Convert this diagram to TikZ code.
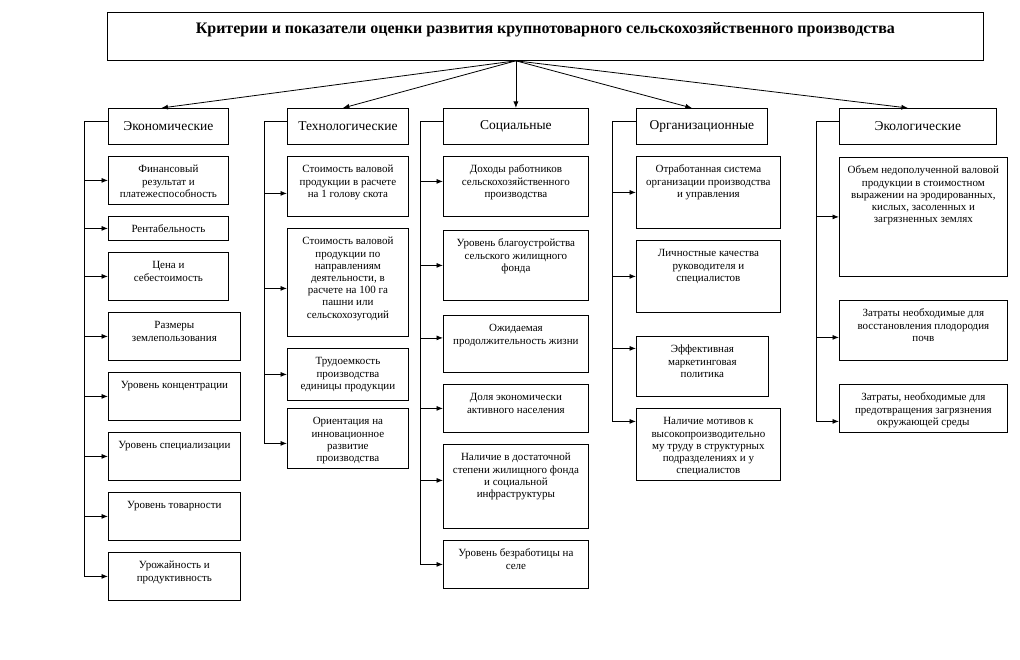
\documentclass[tikz,border=0pt]{standalone}
\usepackage{fontspec}
\setmainfont{Liberation Serif}
\usetikzlibrary{arrows.meta}
\newcommand{\critpar}[3]{\parbox[c][#2][t]{#1}{\centering\rule{0pt}{16.5pt}#3}}

\begin{document}
\begin{tikzpicture}[x=1pt, y=-1pt, line width=0.8pt,
    titl/.style={draw, anchor=north west, inner sep=0pt,
                 font=\bfseries\fontsize{16}{18}\selectfont},
    grp/.style={draw, anchor=north west, inner sep=0pt, minimum height=36,
                font=\fontsize{13.5}{15}\selectfont},
    crit/.style={draw, anchor=north west, inner sep=0pt,
                 font=\fontsize{11}{12.2}\selectfont},
    arr/.style={-{Latex[length=6.5pt, width=5pt]}}]
  \useasboundingbox (0,0) rectangle (1020,660);

  % Заголовок
  \node[titl] (titl) at (107,12) {\parbox[c][48pt][t]{876pt}{\centering\rule{0pt}{21.5pt}%
    Критерии и показатели оценки развития крупнотоварного сельскохозяйственного производства}};

  % Группы критериев
  \node[grp, minimum width=120] (ecoH)  at (108,108) {Экономические};
  \node[grp, minimum width=121] (tecH)  at (287,108) {Технологические};
  \node[grp, minimum width=145] (socH)  at (443,108) {Социальные};
  \node[grp, minimum width=131] (orgH)  at (636,108) {Организационные};
  \node[grp, minimum width=157] (ecolH) at (839,108) {Экологические};

  % Стрелки от заголовка
  \coordinate (hub) at (titl.south -| socH.north);
  \draw[arr] (hub) -- ([xshift=-7pt]ecoH.north);
  \draw[arr] (hub) -- ([xshift=-5pt]tecH.north);
  \draw[arr] (hub) -- (socH.north);
  \draw[arr] (hub) -- ([xshift=-10pt]orgH.north);
  \draw[arr] (hub) -- ([xshift=-10pt]ecolH.north);

  % Экономические
  \node[crit] (e1) at (108,156) {\critpar{120pt}{48pt}{Финансовый\\результат и\\платежеспособность}};
  \node[crit] (e2) at (108,216) {\critpar{120pt}{24pt}{Рентабельность}};
  \node[crit] (e3) at (108,252) {\critpar{120pt}{48pt}{Цена и\\себестоимость}};
  \node[crit] (e4) at (108,312) {\critpar{132pt}{48pt}{Размеры\\землепользования}};
  \node[crit] (e5) at (108,372) {\critpar{132pt}{48pt}{Уровень концентрации}};
  \node[crit] (e6) at (108,432) {\critpar{132pt}{48pt}{Уровень специализации}};
  \node[crit] (e7) at (108,492) {\critpar{132pt}{48pt}{Уровень товарности}};
  \node[crit] (e8) at (108,552) {\critpar{132pt}{48pt}{Урожайность и\\продуктивность}};

  \coordinate (ecoL) at (84,0);
  \draw ([yshift=5pt]ecoH.west) -| (ecoL |- e8.west);
  \draw[arr] (ecoL |- e1.west) -- (e1.west);
  \draw[arr] (ecoL |- e2.west) -- (e2.west);
  \draw[arr] (ecoL |- e3.west) -- (e3.west);
  \draw[arr] (ecoL |- e4.west) -- (e4.west);
  \draw[arr] (ecoL |- e5.west) -- (e5.west);
  \draw[arr] (ecoL |- e6.west) -- (e6.west);
  \draw[arr] (ecoL |- e7.west) -- (e7.west);
  \draw[arr] (ecoL |- e8.west) -- (e8.west);

  % Технологические
  \node[crit] (t1) at (287,156) {\critpar{121pt}{60pt}{Стоимость валовой\\продукции в расчете\\на 1 голову скота}};
  \node[crit] (t2) at (287,228) {\critpar{121pt}{108pt}{Стоимость валовой\\продукции по\\направлениям\\деятельности, в\\расчете на 100 га\\пашни или\\сельскохозугодий}};
  \node[crit] (t3) at (287,348) {\critpar{121pt}{52pt}{Трудоемкость\\производства\\единицы продукции}};
  \node[crit] (t4) at (287,408) {\critpar{121pt}{60pt}{Ориентация на\\инновационное\\развитие\\производства}};

  \coordinate (tecL) at (264,0);
  \coordinate (t1a) at ([yshift=-7pt]t1.west);
  \coordinate (t2a) at ([yshift=-6pt]t2.west);
  \coordinate (t4a) at ([yshift=-5pt]t4.west);
  \draw ([yshift=5pt]tecH.west) -| (tecL |- t4a);
  \draw[arr] (tecL |- t1a) -- (t1a);
  \draw[arr] (tecL |- t2a) -- (t2a);
  \draw[arr] (tecL |- t3.west) -- (t3.west);
  \draw[arr] (tecL |- t4a) -- (t4a);

  % Социальные
  \node[crit] (s1) at (443,156) {\critpar{145pt}{60pt}{Доходы работников\\сельскохозяйственного\\производства}};
  \node[crit] (s2) at (443,230) {\critpar{145pt}{70pt}{Уровень благоустройства\\сельского жилищного\\фонда}};
  \node[crit] (s3) at (443,315) {\critpar{145pt}{57pt}{Ожидаемая\\продолжительность жизни}};
  \node[crit] (s4) at (443,384) {\critpar{145pt}{48pt}{Доля экономически\\активного населения}};
  \node[crit] (s5) at (443,444) {\critpar{145pt}{84pt}{Наличие в достаточной\\степени жилищного фонда\\и социальной\\инфраструктуры}};
  \node[crit] (s6) at (443,540) {\critpar{145pt}{48pt}{Уровень безработицы на\\селе}};

  \coordinate (socL) at (420,0);
  \coordinate (s1a) at ([yshift=5pt]s1.west);
  \coordinate (s3a) at ([yshift=6pt]s3.west);
  \coordinate (s5a) at ([yshift=6pt]s5.west);
  \draw ([yshift=5pt]socH.west) -| (socL |- s6.west);
  \draw[arr] (socL |- s1a) -- (s1a);
  \draw[arr] (socL |- s2.west) -- (s2.west);
  \draw[arr] (socL |- s3a) -- (s3a);
  \draw[arr] (socL |- s4.west) -- (s4.west);
  \draw[arr] (socL |- s5a) -- (s5a);
  \draw[arr] (socL |- s6.west) -- (s6.west);

  % Организационные
  \node[crit] (o1) at (636,156) {\critpar{144pt}{72pt}{Отработанная система\\организации производства\\и управления}};
  \node[crit] (o2) at (636,240) {\critpar{144pt}{72pt}{Личностные качества\\руководителя и\\специалистов}};
  \node[crit] (o3) at (636,336) {\critpar{132pt}{60pt}{Эффективная\\маркетинговая\\политика}};
  \node[crit] (o4) at (636,408) {\critpar{144pt}{72pt}{Наличие мотивов к\\высокопроизводительно\\му труду в структурных\\подразделениях и у\\специалистов}};

  \coordinate (orgL) at (612,0);
  \coordinate (o3a) at ([yshift=18pt]o3.west);
  \coordinate (o4a) at ([yshift=23pt]o4.west);
  \draw ([yshift=5pt]orgH.west) -| (orgL |- o4a);
  \draw[arr] (orgL |- o1.west) -- (o1.west);
  \draw[arr] (orgL |- o2.west) -- (o2.west);
  \draw[arr] (orgL |- o3a) -- (o3a);
  \draw[arr] (orgL |- o4a) -- (o4a);

  % Экологические
  \node[crit] (g1) at (839,157) {\critpar{168pt}{119pt}{Объем недополученной валовой\\продукции в стоимостном\\выражении на эродированных,\\кислых, засоленных и\\загрязненных землях}};
  \node[crit] (g2) at (839,300) {\critpar{168pt}{60pt}{Затраты необходимые для\\восстановления плодородия\\почв}};
  \node[crit] (g3) at (839,384) {\critpar{168pt}{48pt}{Затраты, необходимые для\\предотвращения загрязнения\\окружающей среды}};

  \coordinate (ecolL) at (816,0);
  \coordinate (g2a) at ([yshift=-7pt]g2.west);
  \coordinate (g3a) at ([yshift=-13pt]g3.west);
  \draw ([yshift=5pt]ecolH.west) -| (ecolL |- g3a);
  \draw[arr] (ecolL |- g1.west) -- (g1.west);
  \draw[arr] (ecolL |- g2a) -- (g2a);
  \draw[arr] (ecolL |- g3a) -- (g3a);

\end{tikzpicture}
\end{document}
